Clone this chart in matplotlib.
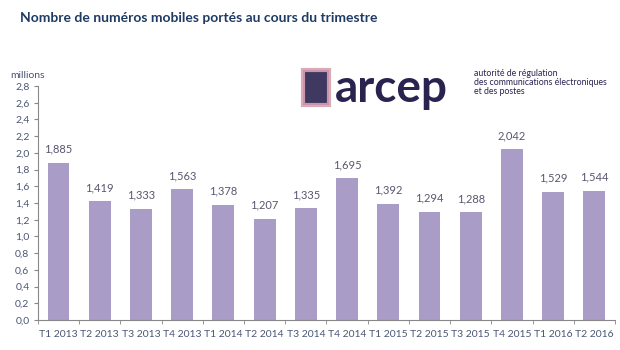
import matplotlib.pyplot as plt
import numpy as np

plt.rcParams["font.family"] = ["Lato", "DejaVu Sans"]

# données
trimestres = ["T1 2013", "T2 2013", "T3 2013", "T4 2013", "T1 2014", "T2 2014", "T3 2014",
              "T4 2014", "T1 2015", "T2 2015", "T3 2015", "T4 2015", "T1 2016", "T2 2016"]
valeurs = [1.885, 1.419, 1.333, 1.563, 1.378, 1.207, 1.335,
           1.695, 1.392, 1.294, 1.288, 2.042, 1.529, 1.544]

bar_color = "#a99cc6"
text_color = "#4b5675"
title_color = "#1f3b63"

fig = plt.figure(figsize=(6.2, 3.5), dpi=100)
ax = fig.add_axes([0.061, 0.086, 0.931, 0.668])

x = np.arange(len(trimestres))
ax.bar(x, valeurs, width=0.53, color=bar_color, zorder=2)

for xi, v in zip(x, valeurs):
    ax.text(xi, v + 0.1, f"{v:.3f}".replace(".", ","), ha="center", va="bottom",
            fontsize=8, color="#5a5570")

ax.set_xlim(-0.5, len(trimestres) - 0.5)
ax.set_ylim(0, 2.8)
yt = np.arange(0, 2.81, 0.2)
ax.set_yticks(yt)
ax.set_yticklabels([f"{t:.1f}".replace(".", ",") for t in yt], fontsize=7.5, color=text_color)
ax.set_xticks(x)
ax.set_xticklabels(trimestres, fontsize=7.5, color=text_color)
ax.set_xticks(np.arange(-0.5, len(trimestres)), minor=True)
ax.tick_params(axis="x", which="major", length=0, pad=7)
ax.tick_params(axis="x", which="minor", length=3, color="#888888")
ax.tick_params(axis="y", length=3, color="#888888", pad=3)

for s in ["top", "right"]:
    ax.spines[s].set_visible(False)
for s in ["left", "bottom"]:
    ax.spines[s].set_color("#888888")
    ax.spines[s].set_linewidth(0.8)

fig.text(0.032, 0.95, "Nombre de numéros mobiles portés au cours du trimestre",
         fontsize=10, fontweight="bold", color=title_color, va="center")
fig.text(0.016, 0.785, "millions", fontsize=7.5, color=text_color, va="center")

# logo
fig.text(0.54, 0.745, "arcep", fontsize=33, fontweight="bold", color="#2a2350", va="center")
fig.text(0.765, 0.765, "autorité de régulation\ndes communications électroniques\net des postes",
         fontsize=6.3, color="#2a2350", va="center", linespacing=1.0)
fig.patches.append(plt.Rectangle((0.488, 0.70), 0.042, 0.1, transform=fig.transFigure,
                                 facecolor="#2a2350", edgecolor="#d9a0b0", linewidth=3, alpha=0.9))

fig.savefig("out.png", dpi=100)
